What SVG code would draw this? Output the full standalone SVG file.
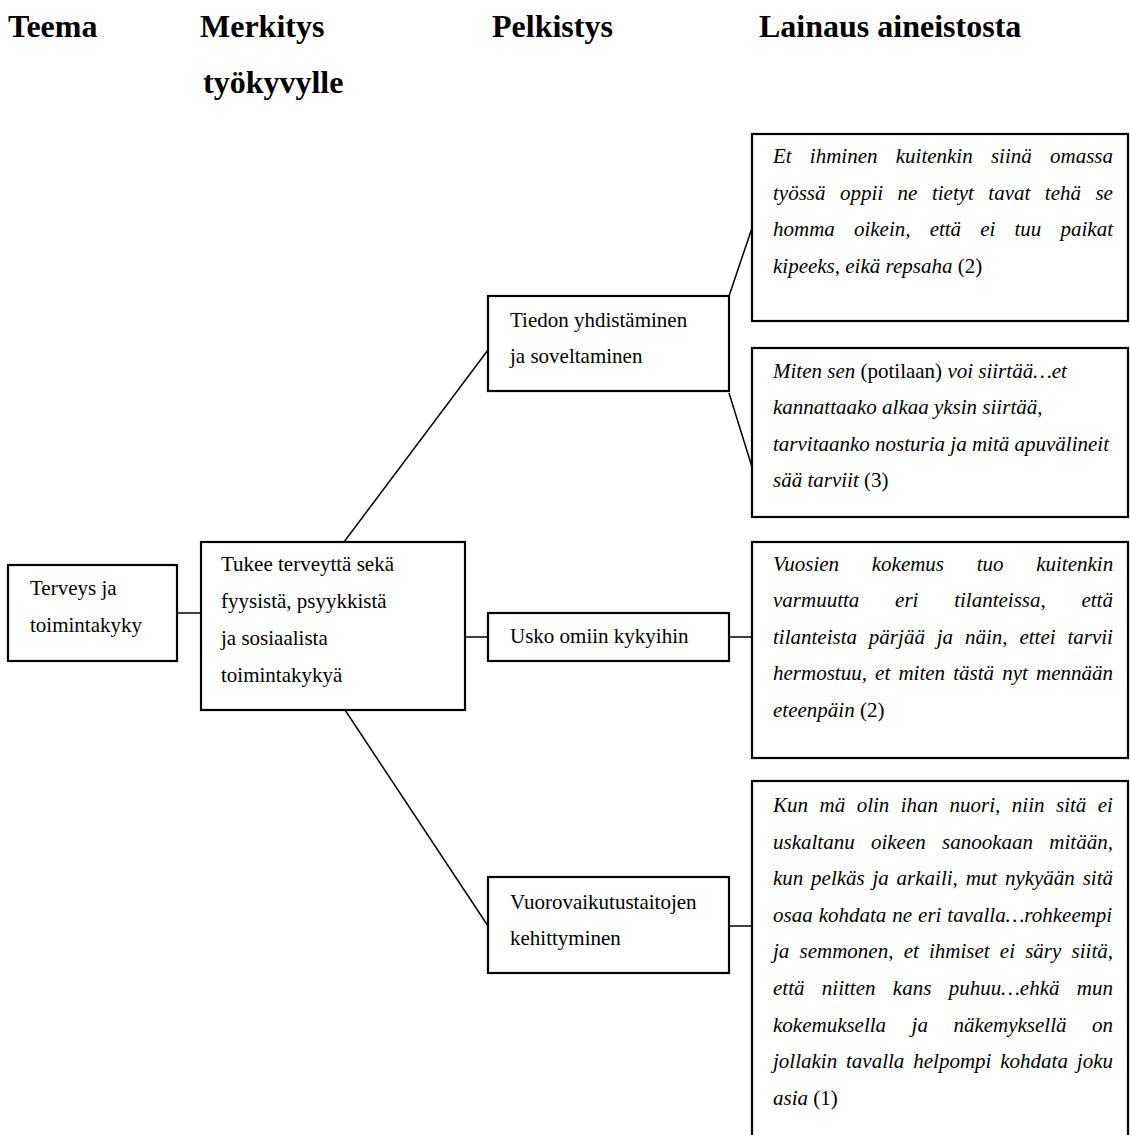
<svg xmlns="http://www.w3.org/2000/svg" width="1130" height="1135" viewBox="0 0 1130 1135">
<style>
.bg{fill:#fff}
.box{fill:#fff;stroke:#000;stroke-width:2.2}
.ln{fill:none;stroke:#000;stroke-width:1.5}
.h{font-family:"Liberation Serif","Times New Roman",serif;font-weight:bold;font-size:32px;fill:#000}
.t{font-family:"Liberation Serif","Times New Roman",serif;font-size:21px;fill:#000}
.q{font-family:"Liberation Serif","Times New Roman",serif;font-size:21px;font-style:italic;fill:#000}
.r{font-style:normal}
</style>
<rect class="bg" x="0" y="0" width="1130" height="1135"/>
<g id="headers">
<text class="h" x="8" y="37">Teema</text>
<text class="h" x="200" y="37">Merkitys</text>
<text class="h" x="203" y="93">työkyvylle</text>
<text class="h" x="492" y="37">Pelkistys</text>
<text class="h" x="759" y="37">Lainaus aineistosta</text>
</g>
<g id="connectors">
<line class="ln" x1="177" y1="613" x2="201" y2="613"/>
<line class="ln" x1="465" y1="637" x2="488" y2="637"/>
<line class="ln" x1="344" y1="542" x2="488" y2="350"/>
<line class="ln" x1="345" y1="710" x2="488" y2="926"/>
<line class="ln" x1="729" y1="296" x2="752" y2="228"/>
<line class="ln" x1="729" y1="393" x2="752" y2="467"/>
<line class="ln" x1="729" y1="637" x2="752" y2="637"/>
<line class="ln" x1="729" y1="926" x2="752" y2="926"/>
</g>
<g id="node-terveys">
<rect class="box" x="8" y="565" width="169" height="96"/>
<text class="t" x="30" y="595">Terveys ja</text>
<text class="t" x="30" y="632">toimintakyky</text>
</g>
<g id="node-tukee">
<rect class="box" x="201" y="542" width="264" height="168"/>
<text class="t" x="221" y="571">Tukee terveyttä sekä</text>
<text class="t" x="221" y="608">fyysistä, psyykkistä</text>
<text class="t" x="221" y="645">ja sosiaalista</text>
<text class="t" x="221" y="682">toimintakykyä</text>
</g>
<g id="node-tiedon">
<rect class="box" x="488" y="296" width="241" height="95"/>
<text class="t" x="510" y="327">Tiedon yhdistäminen</text>
<text class="t" x="510" y="363">ja soveltaminen</text>
</g>
<g id="node-usko">
<rect class="box" x="488" y="613" width="241" height="48"/>
<text class="t" x="510" y="643">Usko omiin kykyihin</text>
</g>
<g id="node-vuoro">
<rect class="box" x="488" y="877" width="241" height="96"/>
<text class="t" x="510" y="909">Vuorovaikutustaitojen</text>
<text class="t" x="510" y="945">kehittyminen</text>
</g>
<g id="quote-1">
<rect class="box" x="752" y="134" width="376" height="187"/>
<text class="q" x="773" y="163" style="word-spacing:12.96px">Et ihminen kuitenkin siinä omassa</text>
<text class="q" x="773" y="200" style="word-spacing:9.22px">työssä oppii ne tietyt tavat tehä se</text>
<text class="q" x="773" y="236" style="word-spacing:13.87px">homma oikein, että ei tuu paikat</text>
<text class="q" x="773" y="273">kipeeks, eikä repsaha <tspan class="r">(2)</tspan></text>
</g>
<g id="quote-2">
<rect class="box" x="752" y="348" width="376" height="169"/>
<text class="q" x="773" y="378">Miten sen <tspan class="r">(potilaan)</tspan> voi siirtää…et</text>
<text class="q" x="773" y="414">kannattaako alkaa yksin siirtää,</text>
<text class="q" x="773" y="451">tarvitaanko nosturia ja mitä apuvälineit</text>
<text class="q" x="773" y="487">sää tarviit <tspan class="r">(3)</tspan></text>
</g>
<g id="quote-3">
<rect class="box" x="752" y="542" width="376" height="216"/>
<text class="q" x="773" y="571" style="word-spacing:27.4px">Vuosien kokemus tuo kuitenkin</text>
<text class="q" x="773" y="607" style="word-spacing:30.49px">varmuutta eri tilanteissa, että</text>
<text class="q" x="773" y="644" style="word-spacing:6.62px">tilanteista pärjää ja näin, ettei tarvii</text>
<text class="q" x="773" y="680" style="word-spacing:2.91px">hermostuu, et miten tästä nyt mennään</text>
<text class="q" x="773" y="717">eteenpäin <tspan class="r">(2)</tspan></text>
</g>
<g id="quote-4">
<rect class="box" x="752" y="781" width="376" height="370"/>
<text class="q" x="773" y="812" style="word-spacing:6.23px">Kun mä olin ihan nuori, niin sitä ei</text>
<text class="q" x="773" y="849" style="word-spacing:11.05px">uskaltanu oikeen sanookaan mitään,</text>
<text class="q" x="773" y="885" style="word-spacing:2.52px">kun pelkäs ja arkaili, mut nykyään sitä</text>
<text class="q" x="773" y="922" style="word-spacing:0.72px">osaa kohdata ne eri tavalla…rohkeempi</text>
<text class="q" x="773" y="958" style="word-spacing:4.95px">ja semmonen, et ihmiset ei säry siitä,</text>
<text class="q" x="773" y="995" style="word-spacing:12.09px">että niitten kans puhuu…ehkä mun</text>
<text class="q" x="773" y="1032" style="word-spacing:20.22px">kokemuksella ja näkemyksellä on</text>
<text class="q" x="773" y="1068" style="word-spacing:3.63px">jollakin tavalla helpompi kohdata joku</text>
<text class="q" x="773" y="1105">asia <tspan class="r">(1)</tspan></text>
</g>
</svg>
